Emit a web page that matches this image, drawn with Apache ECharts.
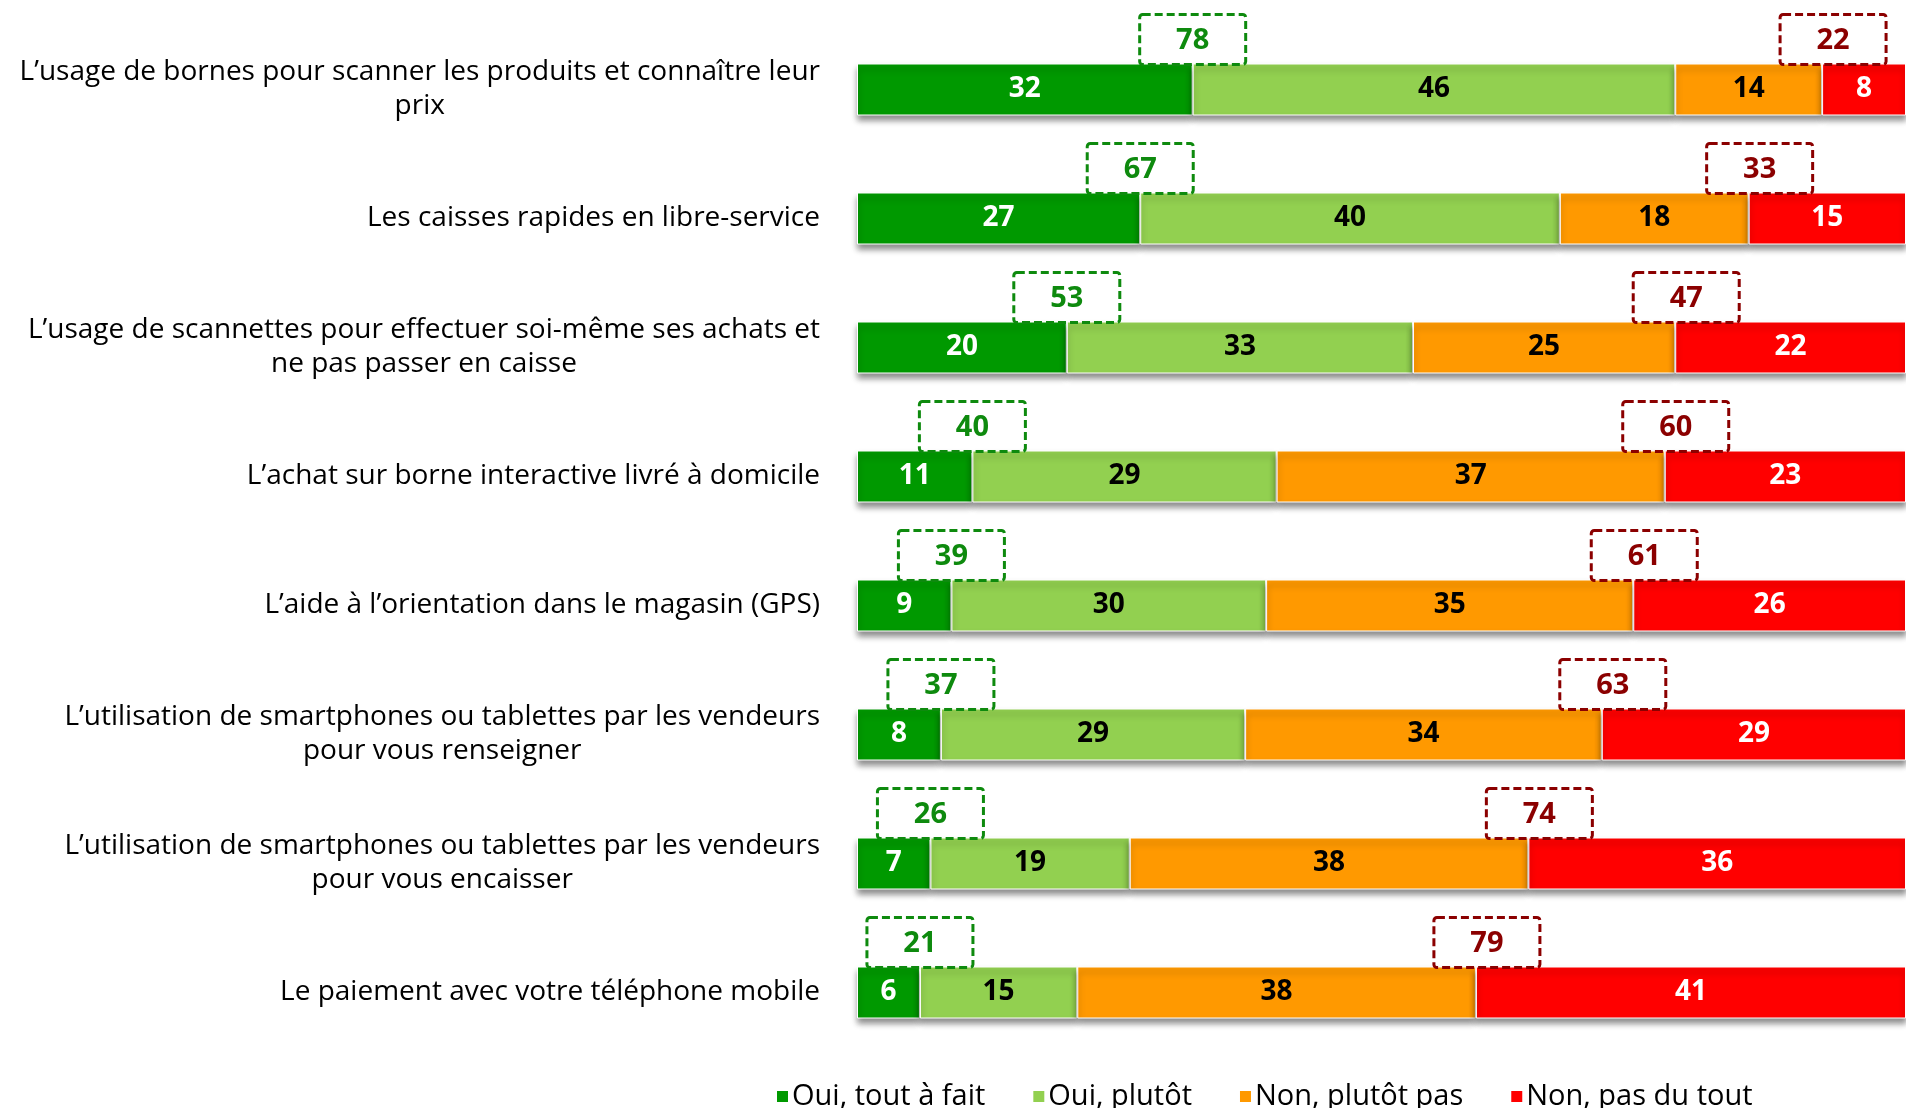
<!DOCTYPE html>
<html>
<head>
<meta charset="utf-8">
<script src="https://cdn.jsdelivr.net/npm/echarts@6/dist/echarts.min.js"></script>
<style>
  html, body { margin: 0; padding: 0; background: #fff; }
  #chart { width: 1906px; height: 1108px; }
</style>
</head>
<body>
<div id="chart"></div>
<script>
const categories = [
  'L’usage de bornes pour scanner les produits et connaître leur\nprix',
  'Les caisses rapides en libre-service',
  'L’usage de scannettes pour effectuer soi-même ses achats et\nne pas passer en caisse',
  'L’achat sur borne interactive livré à domicile',
  'L’aide à l’orientation dans le magasin (GPS)',
  'L’utilisation de smartphones ou tablettes par les vendeurs\npour vous renseigner',
  'L’utilisation de smartphones ou tablettes par les vendeurs\npour vous encaisser',
  'Le paiement avec votre téléphone mobile'
];
const seriesNames = ['Oui, tout à fait', 'Oui, plutôt', 'Non, plutôt pas', 'Non, pas du tout'];
const ouiToutAFait = [32, 27, 20, 11, 9, 8, 7, 6];
const ouiPlutot = [46, 40, 33, 29, 30, 29, 19, 15];
const nonPlutotPas = [14, 18, 25, 37, 35, 34, 38, 38];
const nonPasDuTout = [8, 15, 22, 23, 26, 29, 36, 41];
const totalOui = [78, 67, 53, 40, 39, 37, 26, 21];
const totalNon = [22, 33, 47, 60, 61, 63, 74, 79];

const colors = ['#009900', '#92D050', '#FF9900', '#FF0000'];
const labelColors = ['#fff', '#000', '#000', '#fff'];
const FONT = 'Open Sans';

const chart = echarts.init(document.getElementById('chart'));

const barSeries = [ouiToutAFait, ouiPlutot, nonPlutotPas, nonPasDuTout].map((vals, i) => ({
  name: seriesNames[i],
  type: 'bar',
  stack: 'total',
  barWidth: 52,
  data: vals,
  itemStyle: {
    color: colors[i],
    borderColor: '#fff',
    borderWidth: 1,
    shadowColor: 'rgba(0,0,0,0.45)',
    shadowBlur: 6,
    shadowOffsetY: 5
  },
  label: {
    show: true,
    position: 'inside',
    color: labelColors[i],
    fontFamily: FONT,
    fontWeight: 'bold',
    fontSize: 28
  },
  emphasis: { disabled: true }
}));

// dashed boxes with the totals, placed on the segment boundaries
function boxSeries(data, color, dx) {
  return {
    type: 'custom',
    z: 10,
    clip: false,
    data: data,
    renderItem: function (params, api) {
      const p = api.coord([api.value(0), api.value(1)]);
      const cx = p[0] + dx;
      const cy = p[1] - 26 - 24;
      return {
        type: 'group',
        children: [
          {
            type: 'rect',
            shape: { x: cx - 53, y: cy - 25, width: 106, height: 50, r: 3 },
            style: { fill: 'rgba(255,255,255,0)', stroke: color, lineWidth: 3, lineDash: [8, 4] }
          },
          {
            type: 'text',
            x: cx,
            y: cy + 1,
            style: {
              text: String(api.value(2)),
              align: 'center',
              verticalAlign: 'middle',
              fill: color,
              fontFamily: FONT,
              fontWeight: 'bold',
              fontSize: 29
            }
          }
        ]
      };
    }
  };
}

const ouiBoxes = categories.map((c, i) => [ouiToutAFait[i], i, totalOui[i]]);
const nonBoxes = categories.map((c, i) => [ouiToutAFait[i] + ouiPlutot[i] + nonPlutotPas[i], i, totalNon[i]]);

const option = {
  animation: false,
  grid: { left: 857, top: 25, width: 1060, height: 1032 },
  xAxis: { type: 'value', min: 0, max: 100, show: false },
  yAxis: {
    type: 'category',
    inverse: true,
    data: categories,
    axisLine: { show: false },
    axisTick: { show: false },
    splitLine: { show: false },
    axisLabel: {
      margin: 37,
      formatter: v => v.split('\n').map(l => '{c|' + l + '}').join('\n'),
      rich: {
        c: { align: 'center', fontFamily: FONT, fontSize: 28, lineHeight: 34, color: '#000' }
      }
    }
  },
  legend: {
    data: seriesNames,
    left: 770,
    top: 1077,
    icon: 'rect',
    itemWidth: 13,
    itemHeight: 13,
    itemGap: 46,
    textStyle: { fontFamily: FONT, fontSize: 29, color: '#000', padding: [0, 0, 0, -2] }
  },
  series: barSeries.concat([boxSeries(ouiBoxes, '#0E8A0E', 0), boxSeries(nonBoxes, '#8B0000', 11)])
};

chart.setOption(option);
</script>
</body>
</html>
